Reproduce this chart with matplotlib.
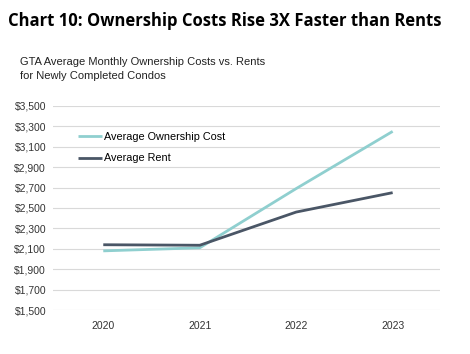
import matplotlib
matplotlib.use("Agg")
import matplotlib.pyplot as plt
from matplotlib.ticker import FuncFormatter

years = ["2020", "2021", "2022", "2023"]
ownership = [2080, 2110, 2690, 3250]
rent = [2140, 2135, 2460, 2650]
yticks = list(range(1500, 3501, 200))

fig = plt.figure(figsize=(4.7, 3.54), dpi=100)
ax = fig.add_axes([0.113, 0.124, 0.823, 0.577])

x = list(range(len(years)))
ax.plot(x, ownership, color="#8FCFCF", lw=2.0, label="Average Ownership Cost", solid_capstyle="butt")
ax.plot(x, rent, color="#4A5666", lw=2.0, label="Average Rent", solid_capstyle="butt")

ax.set_xlim(-0.52, 3.49)
ax.set_ylim(1500, 3500)
ax.set_yticks(yticks)
ax.yaxis.set_major_formatter(FuncFormatter(lambda v, p: "${:,.0f}".format(v)))
ax.set_xticks(x)
ax.set_xticklabels(years)
ax.grid(axis="y", color="#D9D9D9", lw=0.8)
ax.set_axisbelow(True)
for s in ax.spines.values():
    s.set_visible(False)
ax.tick_params(length=0, labelsize=7.5, colors="#333333")
ax.tick_params(axis="x", pad=8)
ax.tick_params(axis="y", pad=5)
for lab in ax.get_xticklabels() + ax.get_yticklabels():
    lab.set_fontfamily("Liberation Sans")

leg = ax.legend(loc="upper left", bbox_to_anchor=(0.04, 0.92), frameon=False,
                prop={"family": "Liberation Sans", "size": 7.8}, handlelength=2.2,
                handletextpad=0.2, labelspacing=1.05)

fig.text(0.017, 0.942, "Chart 10: Ownership Costs Rise 3X Faster than Rents",
         fontsize=12.0, fontweight="bold", family="Open Sans", va="center", ha="left")
fig.text(0.043, 0.804, "GTA Average Monthly Ownership Costs vs. Rents\nfor Newly Completed Condos",
         fontsize=8, family="Liberation Sans", va="center", ha="left", linespacing=1.5,
         color="#222222")

fig.savefig("out.png", dpi=100)
